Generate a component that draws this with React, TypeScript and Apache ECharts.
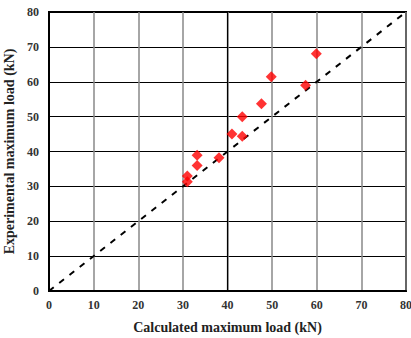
import React, { useEffect, useRef } from "react";
import * as echarts from "echarts";

const calculated = [31.0, 31.0, 33.2, 33.2, 38.1, 41.0, 43.3, 43.3, 47.6, 49.8, 57.5, 59.9];
const experimental = [33.0, 31.3, 38.9, 36.0, 38.2, 45.0, 50.0, 44.4, 53.7, 61.4, 59.0, 68.0];
const equalityLine = [
  [0, 0],
  [80, 80],
];
const darkGridX = [40];
const xAxisName = "Calculated maximum load (kN)";
const yAxisName = "Experimental maximum load (kN)";

export default function App() {
  const ref = useRef<HTMLDivElement>(null);
  useEffect(() => {
    if (!ref.current) return;
    const chart = echarts.init(ref.current, undefined, { renderer: "svg" });
    const font = "'Liberation Serif', 'Times New Roman', serif";
    chart.setOption({
      animation: false,
      backgroundColor: "#ffffff",
      grid: {
        left: 49,
        right: 5,
        top: 12,
        bottom: 47,
        containLabel: false,
        outerBoundsMode: "none",
        show: true,
        borderColor: "#000",
        borderWidth: 2,
      },
      xAxis: {
        type: "value",
        min: 0,
        max: 80,
        interval: 10,
        name: xAxisName,
        nameLocation: "middle",
        nameGap: 29,
        nameTextStyle: { fontFamily: font, fontWeight: "bold", fontSize: 14, color: "#222" },
        axisLine: { show: true, lineStyle: { color: "#000", width: 2 } },
        axisTick: { show: false },
        axisLabel: { fontFamily: font, fontWeight: "bold", fontSize: 12, color: "#333", margin: 8 },
        splitLine: { show: true, lineStyle: { color: "#888", width: 1.5 } },
      },
      yAxis: {
        type: "value",
        min: 0,
        max: 80,
        interval: 10,
        name: yAxisName,
        nameLocation: "middle",
        nameGap: 27,
        nameTextStyle: { fontFamily: font, fontWeight: "bold", fontSize: 14, color: "#222" },
        axisLine: { show: true, lineStyle: { color: "#000", width: 2 } },
        axisTick: { show: false },
        axisLabel: { fontFamily: font, fontWeight: "bold", fontSize: 12, color: "#333", margin: 10 },
        splitLine: { show: true, lineStyle: { color: "#000", width: 1.2 } },
      },
      series: [
        {
          type: "line",
          data: equalityLine,
          showSymbol: false,
          symbol: "none",
          lineStyle: { color: "#000", width: 2, type: [6, 7] },
          z: 3,
          silent: true,
          markLine: {
            silent: true,
            symbol: "none",
            label: { show: false },
            lineStyle: { color: "#000", width: 1.2, type: "solid" },
            data: darkGridX.map((x) => ({ xAxis: x })),
            z: 1,
          },
        },
        {
          type: "scatter",
          data: calculated.map((c, i) => [c, experimental[i]]),
          symbol: "diamond",
          symbolSize: 11,
          itemStyle: { color: "#ff0000" },
          z: 4,
        },
      ],
    });
    return () => chart.dispose();
  }, []);
  return (
    <div
      ref={ref}
      style={{ position: "fixed", left: 0, top: 0, width: 411, height: 338 }}
    />
  );
}
